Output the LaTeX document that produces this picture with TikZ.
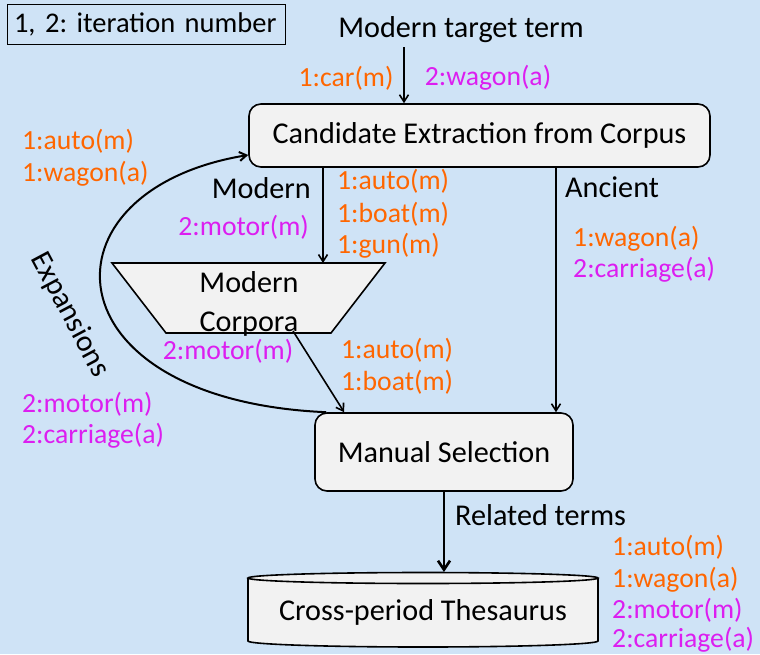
\documentclass[tikz,border=0pt]{standalone}
\usepackage{fontspec}
\setmainfont{Carlito}
\usetikzlibrary{arrows.meta,calc}
\definecolor{bg}{RGB}{207,227,246}
\definecolor{boxfill}{RGB}{242,242,242}
\definecolor{org}{RGB}{255,102,0}
\definecolor{mag}{RGB}{220,30,240}
\frenchspacing
\begin{document}
\begin{tikzpicture}[x=1pt,y=-1pt,
 main/.style={font=\fontsize{30.2}{39}\selectfont, inner sep=0pt},
 lab/.style={font=\fontsize{27.7}{33}\selectfont, inner sep=0pt, anchor=west},
 olab/.style={lab, text=org},
 mlab/.style={lab, text=mag},
 box/.style={draw, fill=boxfill, rounded corners=12pt, line width=1.6pt, main},
 arr/.style={-{Straight Barb[length=7pt,width=9pt]}, line width=1.6pt},
 bigarr/.style={-{Straight Barb[length=9pt,width=12pt]}, line width=2.6pt},
]
\fill[bg] (0,0) rectangle (760,654);
\useasboundingbox (0,0) rectangle (760,654);

% legend
\node[draw, line width=0.9pt, font=\fontsize{28.5}{34}\selectfont, minimum height=40pt,
      text width=264pt, inner xsep=7pt, inner ysep=0pt, align=left] (legend) at (146,24) {1, 2: iteration number};

% top
\node[main] (target) at (461,30) {Modern target term};
\node[olab, anchor=center] (car) at (346,78) {1:car(m)};
\node[mlab, anchor=center] (wagon2) at (488,78) {2:wagon(a)};

\node[box, minimum width=461pt, minimum height=63pt] (cand) at (479.5,135.5) {Candidate Extraction from Corpus};
\coordinate (tgt) at (404,47);
\draw[arr] (tgt) -- (cand.north -| tgt);

% left labels
\node[olab] (l1) at (22,141) {1:auto(m)};
\node[olab] (l2) at (22,174) {1:wagon(a)};
\node[mlab] (l3) at (22,404) {2:motor(m)};
\node[mlab] (l4) at (22,436) {2:carriage(a)};

% modern branch
\node[main, anchor=east] (modern) at (311,188) {Modern};
\node[mlab, anchor=east] (mm) at (309,227) {2:motor(m)};
\node[olab] (m1) at (337,181) {1:auto(m)};
\node[olab] (m2) at (337,214) {1:boat(m)};
\node[olab] (m3) at (337,246) {1:gun(m)};

\draw[line width=1.6pt, fill=boxfill] (112,263) -- (385,263) -- (331,333) -- (166,333) -- cycle;
\node[main, align=center] (corp) at (249,304) {Modern\\Corpora};
\coordinate (tt) at (323,263);
\draw[arr] (cand.south -| tt) -- (tt);

\node[mlab, anchor=center] (cm) at (228,351) {2:motor(m)};
\node[olab] (c1) at (341,350) {1:auto(m)};
\node[olab] (c2) at (341,382) {1:boat(m)};

% manual selection
\node[box, minimum width=258pt, minimum height=78pt] (manual) at (444,452) {Manual Selection};
\coordinate (co) at (293,331);
\draw[arr] (co) -- ($(manual.north west)+(30,0)$);

% ancient branch
\coordinate (anc) at (556,0);
\draw[arr] (cand.south -| anc) -- (manual.north -| anc);
\node[main, anchor=west] (ancient) at (565,187) {Ancient};
\node[olab] (a1) at (573,239) {1:wagon(a)};
\node[mlab] (a2) at (573,270) {2:carriage(a)};

% expansions loop
\coordinate (ex) at (0,155);
\draw[arr, line width=2pt] ($(manual.north west)+(12,0)$) .. controls (45,400) and (35,190) .. (cand.west |- ex);
\node[main, rotate=-62] (expl) at (70,315) {Expansions};

% thesaurus
\draw[line width=1.6pt, fill=boxfill] (248,578) -- (248,641) arc[start angle=180, end angle=360, x radius=175pt, y radius=6pt] -- (598,578);
\draw[line width=1.6pt, fill=boxfill] (423,578) ellipse[x radius=175pt, y radius=5.5pt];
\node[main] (thes) at (423,612) {Cross-period Thesaurus};
\coordinate (thtop) at (444,572);
\draw[bigarr] (manual.south) -- (thtop);
\node[main, anchor=west] (rel) at (455,515) {Related terms};

\node[olab] (r1) at (612,547) {1:auto(m)};
\node[olab] (r2) at (612,580) {1:wagon(a)};
\node[mlab] (r3) at (612,610) {2:motor(m)};
\node[mlab] (r4) at (612,640) {2:carriage(a)};
\end{tikzpicture}
\end{document}
